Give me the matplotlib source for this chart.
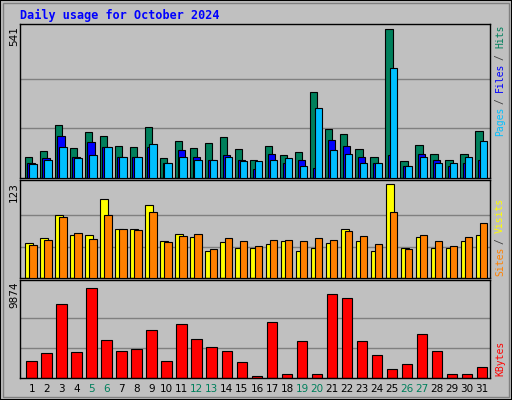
import matplotlib
matplotlib.use("Agg")
import matplotlib.pyplot as plt
from matplotlib.patches import Rectangle
import numpy as np

days = list(range(1, 32))
weekend = [5, 6, 12, 13, 19, 20, 26, 27]
hits = [76, 98, 192, 109, 166, 152, 115, 111, 185, 71, 133, 109, 126, 148, 104, 67,
        115, 82, 93, 311, 177, 159, 104, 78, 541, 60, 119, 89, 67, 89, 170]
files = [56, 71, 152, 78, 130, 111, 78, 75, 111, 53, 100, 78, 64, 82, 64, 34,
         86, 56, 64, 38, 137, 115, 75, 56, 82, 45, 89, 64, 42, 56, 67]
pages = [51, 64, 111, 71, 82, 111, 75, 78, 122, 53, 78, 67, 67, 78, 60, 60,
         64, 71, 42, 255, 100, 86, 56, 53, 401, 45, 78, 56, 56, 75, 133]
sites = [46, 52, 83, 56, 56, 104, 64, 64, 96, 48, 58, 54, 36, 47, 40, 40,
         44, 48, 36, 40, 46, 64, 48, 36, 123, 40, 54, 40, 40, 48, 56]
visits = [43, 50, 80, 59, 51, 82, 64, 63, 87, 47, 55, 58, 38, 52, 48, 42,
          50, 50, 48, 52, 50, 62, 55, 44, 86, 38, 56, 48, 42, 54, 72]
kbytes = [1874, 2739, 8145, 2847, 9874, 4145, 2955, 3172, 5226, 1874, 5983, 4253,
          3388, 2955, 1766, 252, 6199, 469, 4036, 469, 9226, 8794, 4036, 2523,
          1009, 1550, 4793, 2955, 469, 469, 1225]

W, H = 512, 400
fig = plt.figure(figsize=(W / 100, H / 100), dpi=100)
fig.patch.set_facecolor("#C0C0C0")
fig.patches.append(Rectangle((0, 0), 1, 1, transform=fig.transFigure, fill=False,
                             edgecolor="black", linewidth=1.5))
fig.patches.append(Rectangle((3 / W, 3 / H), 1 - 6 / W, 1 - 6 / H, transform=fig.transFigure,
                             fill=False, edgecolor="#808080", linewidth=1))

def add_axes(ytop, ybot):
    ax = fig.add_axes([20 / W, 1 - ybot / H, 470 / W, (ybot - ytop) / H])
    ax.set_facecolor("#C0C0C0")
    ax.set_xlim(0, 31.3)
    ax.set_xticks([])
    ax.set_yticks([])
    for s in ax.spines.values():
        s.set_color("black")
        s.set_linewidth(1)
    return ax

x = np.arange(31)
ec = dict(edgecolor="black", linewidth=0.8, align="edge")

ax1 = add_axes(24, 178)
ax1.set_ylim(0, 541 * 1.035)
for g in (541 / 3, 541 * 2 / 3):
    ax1.axhline(g, color="#808080", linewidth=1, zorder=0)
ax1.bar(x + 0.33, hits, 0.48, color="#00805C", zorder=2, **ec)
ax1.bar(x + 0.49, files, 0.48, color="#0000FF", zorder=3, **ec)
ax1.bar(x + 0.62, pages, 0.5, color="#00BFFF", zorder=4, **ec)

ax2 = add_axes(180, 278)
ax2.set_ylim(0, 123 * 1.045)
for g in (41, 82):
    ax2.axhline(g, color="#808080", linewidth=1, zorder=0)
ax2.bar(x + 0.35, sites, 0.53, color="#FFFF00", zorder=2, **ec)
ax2.bar(x + 0.62, visits, 0.5, color="#FF8000", zorder=3, **ec)

ax3 = add_axes(280, 378)
ax3.set_ylim(0, 9874 * 1.09)
for g in (9874 / 3, 9874 * 2 / 3):
    ax3.axhline(g, color="#808080", linewidth=1, zorder=0)
ax3.bar(x + 0.42, kbytes, 0.69, color="#FF0000", zorder=2, **ec)

for d in days:
    ax3.text(d - 1 + 0.78, -0.06, str(d), transform=ax3.get_xaxis_transform(),
             ha="center", va="top", fontsize=7.5,
             color="#00805C" if d in weekend else "black")

def ptext(xp, yp, s, **kw):
    fig.text(xp / W, 1 - yp / H, s, **kw)

ptext(20, 15, "Daily usage for October 2024", color="#0000FF", fontsize=8.5,
      fontweight="bold", family="DejaVu Sans Mono", va="center", ha="left")
for yp, lab in ((24, "541"), (180, "123"), (280, "9874")):
    ptext(14, yp + 2, lab, rotation=90, fontsize=7.5, va="top", ha="center")

def side(bottom_px, pieces, cw=5.5):
    pos = bottom_px
    for s, c in pieces:
        n = len(s)
        if s.strip() == "/":
            ptext(500, pos - cw * n / 2, "/", rotation=90, color=c, fontsize=7,
                  family="DejaVu Sans Mono", va="center", ha="center")
        else:
            ptext(500, pos - 0.5, s, rotation=90, color=c, fontsize=7,
                  family="DejaVu Sans Mono", va="bottom", ha="center")
        pos -= cw * n

side(137, [("Pages", "#00BFFF"), (" / ", "#404040"), ("Files", "#0000FF"),
           (" / ", "#404040"), ("Hits", "#00805C")])
side(277, [("Sites", "#FF8000"), (" / ", "#404040"), ("Visits", "#FFFF00")])
side(377, [("KBytes", "#FF0000")])

fig.savefig("out.png", dpi=100, facecolor=fig.get_facecolor())
